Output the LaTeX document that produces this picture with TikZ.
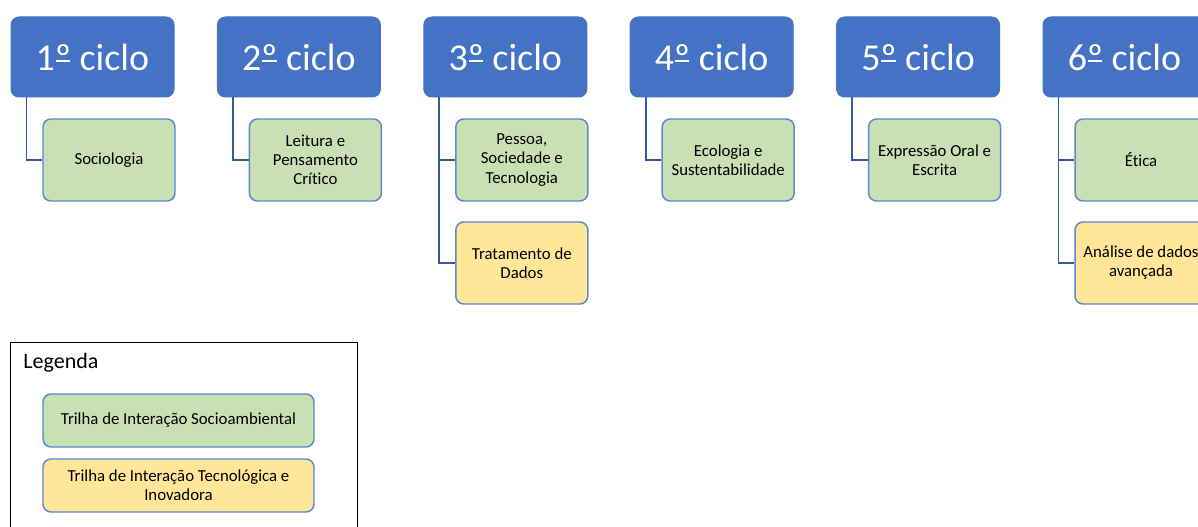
\documentclass[tikz,border=0pt]{standalone}
\usepackage{fontspec}
\setmainfont{Carlito}[Ligatures=NoCommon]
\usetikzlibrary{calc}
\definecolor{cycleblue}{RGB}{68,114,196}
\definecolor{edgeblue}{RGB}{91,135,205}
\definecolor{linkblue}{RGB}{52,88,163}
\definecolor{socgreen}{RGB}{200,224,180}
\definecolor{tecyellow}{RGB}{255,230,153}
% underlined ordinal sign, as Calibri draws it
\newcommand{\ordsign}{{\setbox0\hbox{º}\rlap{\kern0.05\wd0\raisebox{0.22em}{\rule{0.9\wd0}{0.055em}}}\box0}}
\tikzset{every picture/.style={line width=0.75pt}}
\tikzset{
  cyclebox/.style={draw=cycleblue, fill=cycleblue, rounded corners=6pt, minimum width=122.25pt, minimum height=60pt, text=white, font=\fontsize{28.5}{34}\selectfont, inner sep=0pt},
  trackbox/.style={draw=edgeblue, line width=1.1pt, rounded corners=6pt, minimum width=99pt, minimum height=61.5pt, align=center, font=\fontsize{12.6}{14.3}\selectfont, inner sep=1pt},
  socbox/.style={trackbox, fill=socgreen},
  tecbox/.style={trackbox, fill=tecyellow},
  link/.style={draw=linkblue, line width=1.3pt}
}
\begin{document}
\begin{tikzpicture}[x=0.75pt,y=0.75pt,yscale=-1,xscale=1]
\useasboundingbox (0,0) rectangle (1198,527);

% Cycle headers
\foreach \n in {1,...,6}
  \node[cyclebox] (c\n) at ({92.5+206.4*(\n-1)},57) {{\n}\ordsign{} ciclo};

% Track boxes
\node[socbox] (s1) at (109,160) {Sociologia};
\node[socbox] (s2) at (315.4,160) {Leitura e\\Pensamento\\Crítico};
\node[socbox] (s3) at (521.8,160) {Pessoa,\\Sociedade e\\Tecnologia};
\node[tecbox] (t3) at (521.8,263) {Tratamento de\\Dados};
\node[socbox] (s4) at (728.2,160) {Ecologia e\\Sustentabilidade};
\node[socbox] (s5) at (934.6,160) {Expressão Oral e\\Escrita};
\node[socbox] (s6) at (1141,160) {Ética};
\node[tecbox] (t6) at (1141,263) {Análise de dados\\avançada};

% Connectors
\foreach \n in {3,6}
  \draw[link] ([xshift=12pt]c\n.south west) |- (t\n.west);
\foreach \n in {1,...,6}
  \draw[link] ([xshift=12pt]c\n.south west) |- (s\n.west);

% Legend
\node[draw=black, line width=1pt, anchor=north west, minimum width=260.25pt, minimum height=150pt, inner sep=0pt] (legend) at (10,342) {};
\node[anchor=west, font=\fontsize{16.5}{20}\selectfont, inner sep=0pt] (legtitle) at (23,363) {Legenda};
\node[socbox, minimum width=203.25pt, minimum height=39.75pt] (legsoc) at (178.5,420.5) {Trilha de Interação Socioambiental};
\node[tecbox, minimum width=203.25pt, minimum height=39.75pt] (legtec) at (178.5,485.5) {Trilha de Interação Tecnológica e\\Inovadora};

\end{tikzpicture}
\end{document}
